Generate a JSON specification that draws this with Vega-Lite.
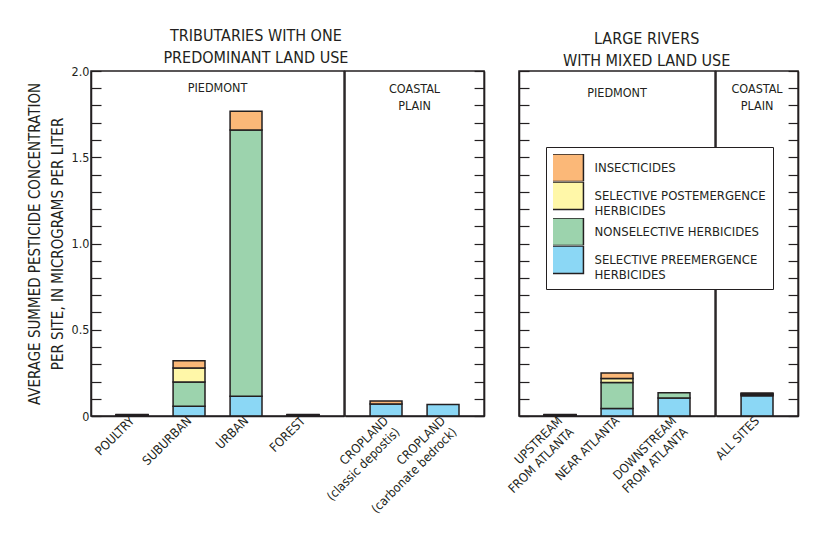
{
  "$schema": "https://vega.github.io/schema/vega-lite/v6.json",
  "background": "white",
  "padding": {"left": 26, "top": 28, "right": 5, "bottom": 5},
  "config": {
    "font": "Liberation Sans Narrow, DejaVu Sans Condensed, sans-serif",
    "view": {"stroke": "#231f20", "strokeWidth": 1.5},
    "axis": {"domainColor": "#231f20", "domainWidth": 1.5, "tickColor": "#231f20", "tickWidth": 1.2, "labelColor": "#231f20", "titleColor": "#231f20", "titleFontWeight": "normal", "grid": false, "labelOverlap": false},
    "title": {"color": "#231f20", "fontWeight": "normal"},
    "bar": {"stroke": "#231f20", "strokeWidth": 1.5}
  },
  "datasets": {
    "pest": [
      {"group": "TP", "site": "POULTRY", "class": "SELECTIVE PREEMERGENCE\nHERBICIDES", "value": 0.004},
      {"group": "TP", "site": "POULTRY", "class": "NONSELECTIVE HERBICIDES", "value": 0.003},
      {"group": "TP", "site": "POULTRY", "class": "INSECTICIDES", "value": 0.001},
      {"group": "TP", "site": "SUBURBAN", "class": "SELECTIVE PREEMERGENCE\nHERBICIDES", "value": 0.056},
      {"group": "TP", "site": "SUBURBAN", "class": "NONSELECTIVE HERBICIDES", "value": 0.141},
      {"group": "TP", "site": "SUBURBAN", "class": "SELECTIVE POSTEMERGENCE\nHERBICIDES", "value": 0.081},
      {"group": "TP", "site": "SUBURBAN", "class": "INSECTICIDES", "value": 0.042},
      {"group": "TP", "site": "URBAN", "class": "SELECTIVE PREEMERGENCE\nHERBICIDES", "value": 0.114},
      {"group": "TP", "site": "URBAN", "class": "NONSELECTIVE HERBICIDES", "value": 1.544},
      {"group": "TP", "site": "URBAN", "class": "INSECTICIDES", "value": 0.108},
      {"group": "TP", "site": "FOREST", "class": "SELECTIVE PREEMERGENCE\nHERBICIDES", "value": 0.004},
      {"group": "TP", "site": "FOREST", "class": "NONSELECTIVE HERBICIDES", "value": 0.003},
      {"group": "TP", "site": "FOREST", "class": "INSECTICIDES", "value": 0.001},
      {"group": "TC", "site": "CROPLAND\n(classic depostis)", "class": "SELECTIVE PREEMERGENCE\nHERBICIDES", "value": 0.070},
      {"group": "TC", "site": "CROPLAND\n(classic depostis)", "class": "INSECTICIDES", "value": 0.017},
      {"group": "TC", "site": "CROPLAND\n(carbonate bedrock)", "class": "SELECTIVE PREEMERGENCE\nHERBICIDES", "value": 0.066},
      {"group": "RP", "site": "UPSTREAM\nFROM ATLANTA", "class": "SELECTIVE PREEMERGENCE\nHERBICIDES", "value": 0.004},
      {"group": "RP", "site": "UPSTREAM\nFROM ATLANTA", "class": "NONSELECTIVE HERBICIDES", "value": 0.003},
      {"group": "RP", "site": "UPSTREAM\nFROM ATLANTA", "class": "INSECTICIDES", "value": 0.001},
      {"group": "RP", "site": "NEAR ATLANTA", "class": "SELECTIVE PREEMERGENCE\nHERBICIDES", "value": 0.044},
      {"group": "RP", "site": "NEAR ATLANTA", "class": "NONSELECTIVE HERBICIDES", "value": 0.150},
      {"group": "RP", "site": "NEAR ATLANTA", "class": "SELECTIVE POSTEMERGENCE\nHERBICIDES", "value": 0.023},
      {"group": "RP", "site": "NEAR ATLANTA", "class": "INSECTICIDES", "value": 0.033},
      {"group": "RP", "site": "DOWNSTREAM\nFROM ATLANTA", "class": "SELECTIVE PREEMERGENCE\nHERBICIDES", "value": 0.104},
      {"group": "RP", "site": "DOWNSTREAM\nFROM ATLANTA", "class": "NONSELECTIVE HERBICIDES", "value": 0.031},
      {"group": "RC", "site": "ALL SITES", "class": "SELECTIVE PREEMERGENCE\nHERBICIDES", "value": 0.117},
      {"group": "RC", "site": "ALL SITES", "class": "NONSELECTIVE HERBICIDES", "value": 0.008},
      {"group": "RC", "site": "ALL SITES", "class": "SELECTIVE POSTEMERGENCE\nHERBICIDES", "value": 0.004},
      {"group": "RC", "site": "ALL SITES", "class": "INSECTICIDES", "value": 0.005}
    ]
  },
  "spacing": 7,
  "hconcat": [
    {
      "title": {"text": ["TRIBUTARIES WITH ONE", "PREDOMINANT LAND USE"], "anchor": "middle", "fontSize": 16, "lineHeight": 22, "offset": -2},
      "spacing": 0,
      "bounds": "flush",
      "hconcat": [
        {
          "data": {"name": "pest"},
          "transform": [{"filter": "datum.group == 'TP'"}, {"calculate": "indexof(['SELECTIVE PREEMERGENCE\\nHERBICIDES', 'NONSELECTIVE HERBICIDES', 'SELECTIVE POSTEMERGENCE\\nHERBICIDES', 'INSECTICIDES'], datum.class)", "as": "stackorder"}],
          "width": {"step": 57},
          "height": 345,
          "title": {"text": "PIEDMONT", "anchor": "middle", "offset": -29, "baseline": "top", "fontSize": 12.5},
          "mark": {"type": "bar"},
          "encoding": {
            "x": {"field": "site", "type": "nominal", "sort": ["POULTRY", "SUBURBAN", "URBAN", "FOREST"],
                  "scale": {"paddingInner": 0.44, "paddingOuter": 0.44},
                  "axis": {"title": null, "ticks": false, "zindex": 1, "labelAngle": -45, "labelAlign": "right", "labelBaseline": "top", "labelPadding": -2, "labelOffset": -4, "labelFontSize": 12.5, "labelLineHeight": 16, "labelExpr": "split(datum.label, '\\n')"}},
            "y": {"field": "value", "type": "quantitative", "aggregate": "sum", "stack": "zero", "scale": {"domain": [0, 2], "nice": false},
                  "axis": {"orient": "left", "values": [0, 0.1, 0.2, 0.3, 0.4, 0.5, 0.6, 0.7, 0.8, 0.9, 1.0, 1.1, 1.2, 1.3, 1.4, 1.5, 1.6, 1.7, 1.8, 1.9, 2.0],
                           "labelExpr": "datum.value == 0 ? '0' : (abs(datum.value * 2 - round(datum.value * 2)) < 0.001 ? format(datum.value, '.1f') : '')",
                           "tickSize": -10, "labelPadding": 12, "labelFontSize": 12.5,
                           "title": ["AVERAGE SUMMED PESTICIDE CONCENTRATION", "PER SITE, IN MICROGRAMS PER LITER"], "titleFontSize": 15, "titleLineHeight": 23, "titlePadding": 6}},
            "order": {"field": "stackorder", "type": "quantitative", "sort": "ascending"},
            "color": {"field": "class", "type": "nominal",
                      "scale": {"domain": ["INSECTICIDES", "SELECTIVE POSTEMERGENCE\nHERBICIDES", "NONSELECTIVE HERBICIDES", "SELECTIVE PREEMERGENCE\nHERBICIDES"], "range": ["#FBB878", "#FFF7A8", "#9CD3AD", "#8BD7F5"]},
                      "legend": {"orient": "none", "legendX": 455, "legendY": 76, "title": null, "symbolType": "M-1.16,-1L1.16,-1L1.16,1L-1.16,1Z", "symbolSize": 756, "symbolStrokeColor": "#231f20", "symbolStrokeWidth": 1.5, "symbolOpacity": 1, "rowPadding": 0, "clipHeight": 27.5, "labelFontSize": 13, "labelLimit": 300, "labelOffset": 12.5, "labelExpr": "split(datum.label, '\\n')", "strokeColor": "#231f20", "fillColor": "white", "padding": 7, "labelColor": "#231f20", "encode": {"labels": {"update": {"lineHeight": {"value": 12.5}}}}}}
          }
        },
        {
          "data": {"name": "pest"},
          "transform": [{"filter": "datum.group == 'TC'"}, {"calculate": "indexof(['SELECTIVE PREEMERGENCE\\nHERBICIDES', 'NONSELECTIVE HERBICIDES', 'SELECTIVE POSTEMERGENCE\\nHERBICIDES', 'INSECTICIDES'], datum.class)", "as": "stackorder"}],
          "width": {"step": 57},
          "height": 345,
          "title": {"text": ["COASTAL", "PLAIN"], "anchor": "middle", "offset": -42, "baseline": "top", "fontSize": 12.5, "lineHeight": 17},
          "mark": {"type": "bar"},
          "encoding": {
            "x": {"field": "site", "type": "nominal", "sort": ["CROPLAND\n(classic depostis)", "CROPLAND\n(carbonate bedrock)"],
                  "scale": {"paddingInner": 0.44, "paddingOuter": 0.44},
                  "axis": {"title": null, "ticks": false, "zindex": 1, "labelAngle": -45, "labelAlign": "right", "labelBaseline": "top", "labelPadding": -2, "labelOffset": -4, "labelFontSize": 12.5, "labelLineHeight": 16, "labelExpr": "split(datum.label, '\\n')"}},
            "y": {"field": "value", "type": "quantitative", "aggregate": "sum", "stack": "zero", "scale": {"domain": [0, 2], "nice": false},
                  "axis": {"orient": "right", "values": [0, 0.1, 0.2, 0.3, 0.4, 0.5, 0.6, 0.7, 0.8, 0.9, 1.0, 1.1, 1.2, 1.3, 1.4, 1.5, 1.6, 1.7, 1.8, 1.9, 2.0], "labels": false, "tickSize": -10, "title": null}},
            "order": {"field": "stackorder", "type": "quantitative", "sort": "ascending"},
            "color": {"field": "class", "type": "nominal",
                      "scale": {"domain": ["INSECTICIDES", "SELECTIVE POSTEMERGENCE\nHERBICIDES", "NONSELECTIVE HERBICIDES", "SELECTIVE PREEMERGENCE\nHERBICIDES"], "range": ["#FBB878", "#FFF7A8", "#9CD3AD", "#8BD7F5"]},
                      "legend": {"orient": "none", "legendX": 455, "legendY": 76, "title": null, "symbolType": "M-1.16,-1L1.16,-1L1.16,1L-1.16,1Z", "symbolSize": 756, "symbolStrokeColor": "#231f20", "symbolStrokeWidth": 1.5, "symbolOpacity": 1, "rowPadding": 0, "clipHeight": 27.5, "labelFontSize": 13, "labelLimit": 300, "labelOffset": 12.5, "labelExpr": "split(datum.label, '\\n')", "strokeColor": "#231f20", "fillColor": "white", "padding": 7, "labelColor": "#231f20", "encode": {"labels": {"update": {"lineHeight": {"value": 12.5}}}}}}
          }
        }
      ]
    },
    {
      "title": {"text": ["LARGE RIVERS", "WITH MIXED LAND USE"], "anchor": "middle", "fontSize": 16, "lineHeight": 22, "offset": 1},
      "spacing": 0,
      "bounds": "flush",
      "hconcat": [
        {
          "data": {"name": "pest"},
          "transform": [{"filter": "datum.group == 'RP'"}, {"calculate": "indexof(['SELECTIVE PREEMERGENCE\\nHERBICIDES', 'NONSELECTIVE HERBICIDES', 'SELECTIVE POSTEMERGENCE\\nHERBICIDES', 'INSECTICIDES'], datum.class)", "as": "stackorder"}],
          "width": {"step": 57},
          "height": 345,
          "title": {"text": "PIEDMONT", "anchor": "middle", "offset": -29, "baseline": "top", "fontSize": 12.5},
          "mark": {"type": "bar"},
          "encoding": {
            "x": {"field": "site", "type": "nominal", "sort": ["UPSTREAM\nFROM ATLANTA", "NEAR ATLANTA", "DOWNSTREAM\nFROM ATLANTA"],
                  "scale": {"paddingInner": 0.44, "paddingOuter": 0.44},
                  "axis": {"title": null, "ticks": false, "zindex": 1, "labelAngle": -45, "labelAlign": "right", "labelBaseline": "top", "labelPadding": -2, "labelOffset": -4, "labelFontSize": 12.5, "labelLineHeight": 16, "labelExpr": "split(datum.label, '\\n')"}},
            "y": {"field": "value", "type": "quantitative", "aggregate": "sum", "stack": "zero", "scale": {"domain": [0, 2], "nice": false},
                  "axis": {"orient": "left", "values": [0, 0.1, 0.2, 0.3, 0.4, 0.5, 0.6, 0.7, 0.8, 0.9, 1.0, 1.1, 1.2, 1.3, 1.4, 1.5, 1.6, 1.7, 1.8, 1.9, 2.0], "labels": false, "tickSize": -10, "title": null}},
            "order": {"field": "stackorder", "type": "quantitative", "sort": "ascending"},
            "color": {"field": "class", "type": "nominal",
                      "scale": {"domain": ["INSECTICIDES", "SELECTIVE POSTEMERGENCE\nHERBICIDES", "NONSELECTIVE HERBICIDES", "SELECTIVE PREEMERGENCE\nHERBICIDES"], "range": ["#FBB878", "#FFF7A8", "#9CD3AD", "#8BD7F5"]},
                      "legend": {"orient": "none", "legendX": 455, "legendY": 76, "title": null, "symbolType": "M-1.16,-1L1.16,-1L1.16,1L-1.16,1Z", "symbolSize": 756, "symbolStrokeColor": "#231f20", "symbolStrokeWidth": 1.5, "symbolOpacity": 1, "rowPadding": 0, "clipHeight": 27.5, "labelFontSize": 13, "labelLimit": 300, "labelOffset": 12.5, "labelExpr": "split(datum.label, '\\n')", "strokeColor": "#231f20", "fillColor": "white", "padding": 7, "labelColor": "#231f20", "encode": {"labels": {"update": {"lineHeight": {"value": 12.5}}}}}}
          }
        },
        {
          "data": {"name": "pest"},
          "transform": [{"filter": "datum.group == 'RC'"}, {"calculate": "indexof(['SELECTIVE PREEMERGENCE\\nHERBICIDES', 'NONSELECTIVE HERBICIDES', 'SELECTIVE POSTEMERGENCE\\nHERBICIDES', 'INSECTICIDES'], datum.class)", "as": "stackorder"}],
          "width": {"step": 57},
          "height": 345,
          "title": {"text": ["COASTAL", "PLAIN"], "anchor": "middle", "offset": -42, "baseline": "top", "fontSize": 12.5, "lineHeight": 17},
          "mark": {"type": "bar"},
          "encoding": {
            "x": {"field": "site", "type": "nominal", "sort": ["ALL SITES"],
                  "scale": {"paddingInner": 0.44, "paddingOuter": 0.44},
                  "axis": {"title": null, "ticks": false, "zindex": 1, "labelAngle": -45, "labelAlign": "right", "labelBaseline": "top", "labelPadding": -2, "labelOffset": -4, "labelFontSize": 12.5, "labelLineHeight": 16, "labelExpr": "split(datum.label, '\\n')"}},
            "y": {"field": "value", "type": "quantitative", "aggregate": "sum", "stack": "zero", "scale": {"domain": [0, 2], "nice": false},
                  "axis": {"orient": "right", "values": [0, 0.1, 0.2, 0.3, 0.4, 0.5, 0.6, 0.7, 0.8, 0.9, 1.0, 1.1, 1.2, 1.3, 1.4, 1.5, 1.6, 1.7, 1.8, 1.9, 2.0], "labels": false, "tickSize": -10, "title": null}},
            "order": {"field": "stackorder", "type": "quantitative", "sort": "ascending"},
            "color": {"field": "class", "type": "nominal",
                      "scale": {"domain": ["INSECTICIDES", "SELECTIVE POSTEMERGENCE\nHERBICIDES", "NONSELECTIVE HERBICIDES", "SELECTIVE PREEMERGENCE\nHERBICIDES"], "range": ["#FBB878", "#FFF7A8", "#9CD3AD", "#8BD7F5"]},
                      "legend": {"orient": "none", "legendX": 455, "legendY": 76, "title": null, "symbolType": "M-1.16,-1L1.16,-1L1.16,1L-1.16,1Z", "symbolSize": 756, "symbolStrokeColor": "#231f20", "symbolStrokeWidth": 1.5, "symbolOpacity": 1, "rowPadding": 0, "clipHeight": 27.5, "labelFontSize": 13, "labelLimit": 300, "labelOffset": 12.5, "labelExpr": "split(datum.label, '\\n')", "strokeColor": "#231f20", "fillColor": "white", "padding": 7, "labelColor": "#231f20", "encode": {"labels": {"update": {"lineHeight": {"value": 12.5}}}}}}
          }
        }
      ]
    }
  ]
}
